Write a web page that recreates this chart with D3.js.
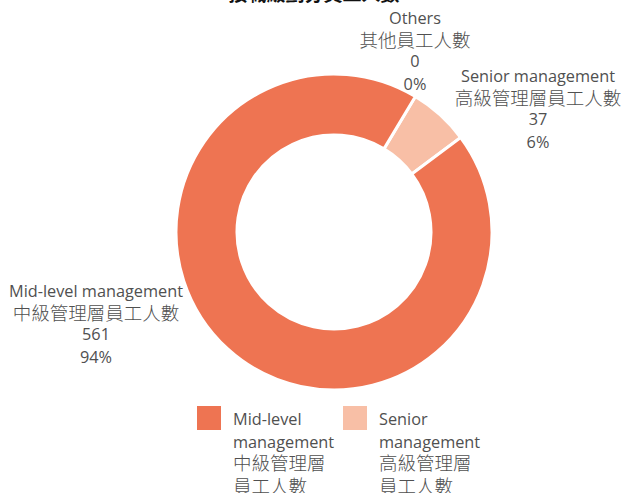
<!DOCTYPE html>
<html>
<head>
<meta charset="utf-8">
<script src="https://cdn.jsdelivr.net/npm/d3@7"></script>
<style>
  body { margin: 0; background: #fff; }
  svg text { font-family: "Open Sans", "Noto Sans CJK TC", sans-serif; fill: #505050; }
  .zh { font-family: "Noto Sans CJK TC", sans-serif; font-weight: 300; }
  .title { font-weight: bold; fill: #111; font-family: "Noto Sans CJK TC", sans-serif; }
</style>
</head>
<body>
<svg width="624" height="493"></svg>
<script>
var categories = ["Others", "Senior", "Mid"];
var enNames = ["Others", "Senior management", "Mid-level management"];
var zhNames = ["其他員工人數", "高級管理層員工人數", "中級管理層員工人數"];
var values = [0, 37, 561];
var percents = ["0%", "6%", "94%"];
var legendCats = ["Mid", "Senior"];
var legendEn = [["Mid-level", "management"], ["Senior", "management"]];
var legendZh = [["中級管理層", "員工人數"], ["高級管理層", "員工人數"]];

var svg = d3.select("svg");
var cx = 334, cy = 232, outerR = 158, innerR = 97;

var color = d3.scaleOrdinal()
    .domain(["Others", "Senior", "Mid"])
    .range(["#d9d9d9", "#f8bfa6", "#ee7452"]);

svg.append("text")
    .attr("class", "title")
    .attr("x", 314)
    .attr("y", 1)
    .attr("text-anchor", "middle")
    .style("font-size", "19px")
    .text("按職級劃分員工人數");

var pie = d3.pie()
    .sort(null)
    .value(function(d) { return d.value; })
    .startAngle(31 * Math.PI / 180)
    .endAngle(31 * Math.PI / 180 + 2 * Math.PI);

var data = categories.map(function(c, i) {
  return {cat: c, value: values[i], en: enNames[i], zh: zhNames[i], pct: percents[i]};
});

var arc = d3.arc().innerRadius(innerR).outerRadius(outerR);

var g = svg.append("g").attr("transform", "translate(" + cx + "," + cy + ")");

g.selectAll(".slice")
    .data(pie(data).filter(function(d) { return d.data.value > 0; }))
  .enter().append("path")
    .attr("class", "slice")
    .attr("d", arc)
    .attr("fill", function(d) { return color(d.data.cat); })
    .attr("stroke", "#fff")
    .attr("stroke-width", 3);

// label anchors (layout only)
var labelPos = {Others: [415, 24], Senior: [538, 82], Mid: [96, 297]};

data.forEach(function(d) {
  var p = labelPos[d.cat];
  var t = svg.append("text").attr("text-anchor", "middle");
  var lines = [d.en, d.zh, d.value, d.pct];
  var dy = [0, 23, 20, 23];
  var y = p[1];
  lines.forEach(function(l, i) {
    y += dy[i];
    t.append("tspan").attr("x", p[0]).attr("y", y)
        .attr("class", i == 1 ? "zh" : null)
        .style("font-size", i == 1 ? "18.5px" : "16.3px")
        .text(l);
  });
});

var legendX = d3.scaleOrdinal().domain(legendCats).range([197, 343]);

legendCats.forEach(function(c, i) {
  var x0 = legendX(c);
  svg.append("rect")
      .attr("x", x0).attr("y", 406)
      .attr("width", 24).attr("height", 24)
      .attr("fill", color(c));
  var t = svg.append("text");
  var lines = legendEn[i].concat(legendZh[i]);
  lines.forEach(function(l, j) {
    t.append("tspan").attr("x", x0 + 36).attr("y", 425 + j * 22.7)
        .attr("class", j >= 2 ? "zh" : null)
        .style("font-size", j >= 2 ? "18.5px" : "16.3px")
        .text(l);
  });
});
</script>
</body>
</html>
